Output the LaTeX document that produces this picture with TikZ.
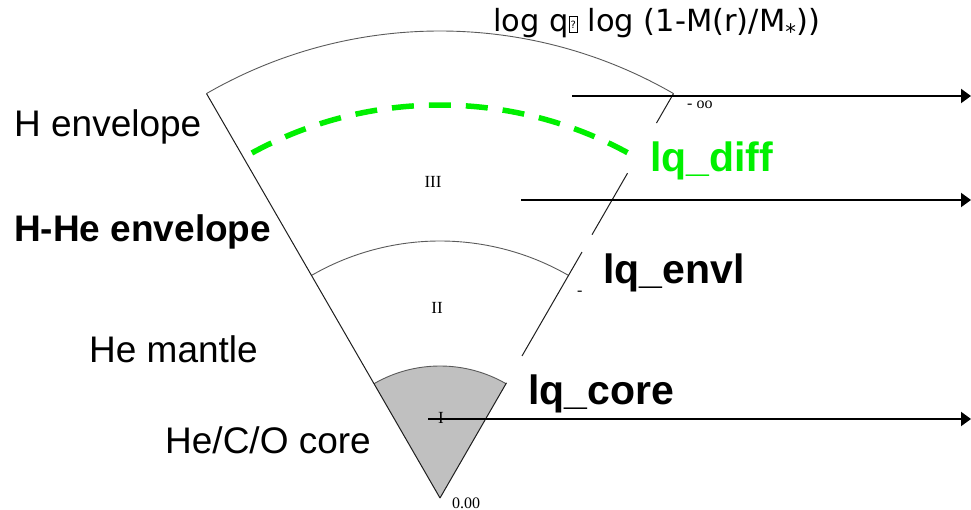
\documentclass[tikz,border=0pt]{standalone}
\usepackage{fontspec}
\setmainfont{Liberation Sans}
\newfontfamily\serifx{Liberation Serif}
\newfontfamily\topfont{DejaVu Sans}
\usetikzlibrary{arrows.meta}
\definecolor{lgreen}{RGB}{0,240,0}
\definecolor{coregray}{RGB}{192,192,192}
\definecolor{arcgray}{RGB}{90,90,90}
\definecolor{edgeblk}{RGB}{30,30,30}
\newcommand\qbx{{\fboxsep=0pt\fboxrule=0.6pt\fbox{\parbox[b][15pt][c]{8pt}{\centering\fontsize{10}{10}\selectfont ?}}}}
\begin{document}
\begin{tikzpicture}[x=1pt,y=-1pt,
  lbl/.style={inner sep=0pt, anchor=base west, font=\fontsize{37}{37}\selectfont},
  blbl/.style={inner sep=0pt, anchor=base west, font=\fontsize{37}{37}\selectfont\bfseries},
  lq/.style={inner sep=0pt, anchor=base west, font=\fontsize{41}{41}\selectfont\bfseries},
  roman/.style={inner sep=0pt, anchor=base, font=\serifx\fontsize{17}{17}\selectfont},
  small/.style={inner sep=0pt, anchor=base west, font=\serifx\fontsize{16}{16}\selectfont},
  toplbl/.style={inner sep=0pt, anchor=base west, font=\topfont\fontsize{30.5}{30.5}\selectfont},
  arcline/.style={draw=arcgray, line width=0.9pt},
  edge/.style={draw=edgeblk, line width=1pt},
  arr/.style={draw=black, line width=2pt, -{Triangle[length=10pt,width=14pt]}},
  greendash/.style={draw=lgreen, line width=5.5pt, dash pattern=on 22pt off 15pt}
]
\useasboundingbox (0,0) rectangle (971,510);
\coordinate (apex) at (440,498);

% core
\fill[coregray] (apex) -- ++(-60:132) arc[start angle=-60, end angle=-120, radius=132] -- cycle;
\draw[arcline] (apex) ++(-60:132) arc[start angle=-60, end angle=-120, radius=132];

% arcs
\draw[arcline] (apex) ++(-60:257) arc[start angle=-60, end angle=-120, radius=257];
\draw[arcline] (apex) ++(-60:467) arc[start angle=-60, end angle=-120, radius=467];

% edges
\draw[edge] (apex) -- ([shift={(-120:467)}]apex);
\draw[edge] (apex) -- ([shift={(-60:133)}]apex);
\draw[edge] ([shift={(-60:164)}]apex) -- ([shift={(-60:284)}]apex);
\draw[edge] ([shift={(-60:304)}]apex) -- ([shift={(-60:375)}]apex);
\draw[edge] ([shift={(-60:433)}]apex) -- ([shift={(-60:467)}]apex);

% green dashed boundary
\draw[greendash] (apex) ++(-118.6:393) arc[start angle=-118.6, end angle=-61.5, radius=393];

% arrows
\coordinate (a1s) at (572,96);  \coordinate (a1e) at (971,96);
\coordinate (a2s) at (521,200); \coordinate (a2e) at (971,200);
\coordinate (a3s) at (428,419); \coordinate (a3e) at (971,419);
\draw[arr] (a1s) -- (a1e);
\draw[arr] (a2s) -- (a2e);
\draw[arr] (a3s) -- (a3e);

% labels
\node[toplbl] (ttl) at (493,32) {log q\qbx{} log (1-M(r)/M\textsubscript{*}))};
\node[lbl] (henv) at (14,137) {H envelope};
\node[blbl] (hhe) at (14,242) {H-He envelope};
\node[lbl] (hem) at (89,362) {He mantle};
\node[lbl] (hco) at (165,453) {He/C/O core};
\node[lq, text=lgreen] (lqd) at (650,172) {lq\_diff};
\node[lq] (lqe) at (603,284) {lq\_envl};
\node[lq] (lqc) at (528,404) {lq\_core};
\node[roman] (r3) at (433,188) {III};
\node[roman] (r2) at (437,314) {II};
\node[roman] (r1) at (441,423) {I};
\node[small] (zero) at (452,508) {0.00};
\node[small] (moo) at (687,109) {- oo};
\node[small] (dash) at (577,296) {-};
\end{tikzpicture}
\end{document}
